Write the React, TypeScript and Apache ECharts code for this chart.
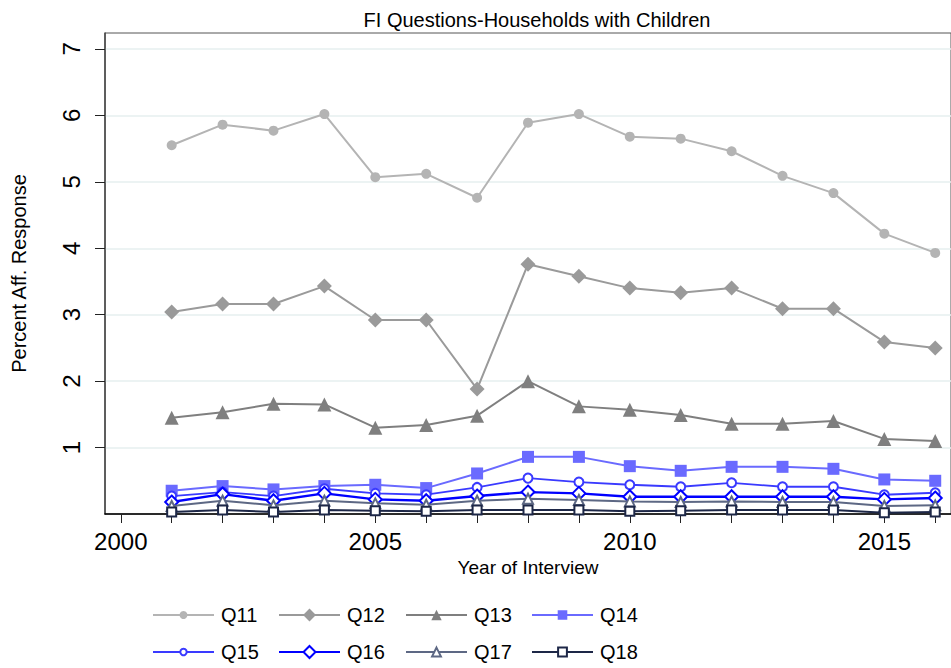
import React, { useEffect, useRef } from 'react';
import * as echarts from 'echarts';

const years = [2001, 2002, 2003, 2004, 2005, 2006, 2007, 2008, 2009, 2010, 2011, 2012, 2013, 2014, 2015, 2016];
const q11 = [5.55, 5.86, 5.77, 6.02, 5.07, 5.12, 4.76, 5.89, 6.02, 5.68, 5.65, 5.46, 5.09, 4.83, 4.22, 3.93];
const q12 = [3.04, 3.16, 3.16, 3.43, 2.92, 2.92, 1.88, 3.76, 3.58, 3.4, 3.33, 3.4, 3.09, 3.09, 2.59, 2.5];
const q13 = [1.45, 1.53, 1.66, 1.65, 1.3, 1.34, 1.48, 2.0, 1.62, 1.57, 1.49, 1.36, 1.36, 1.4, 1.13, 1.1];
const q14 = [0.35, 0.42, 0.37, 0.42, 0.44, 0.39, 0.61, 0.86, 0.86, 0.72, 0.65, 0.71, 0.71, 0.68, 0.52, 0.5];
const q15 = [0.27, 0.33, 0.27, 0.38, 0.31, 0.29, 0.4, 0.54, 0.48, 0.44, 0.41, 0.47, 0.41, 0.41, 0.29, 0.32];
const q16 = [0.18, 0.3, 0.2, 0.31, 0.22, 0.2, 0.27, 0.33, 0.31, 0.26, 0.26, 0.26, 0.26, 0.26, 0.22, 0.24];
const q17 = [0.12, 0.2, 0.13, 0.2, 0.16, 0.14, 0.2, 0.23, 0.21, 0.19, 0.18, 0.19, 0.18, 0.18, 0.12, 0.13];
const q18 = [0.03, 0.06, 0.03, 0.06, 0.05, 0.04, 0.06, 0.06, 0.06, 0.04, 0.05, 0.06, 0.06, 0.06, 0.02, 0.03];

const seriesNames = ['Q11', 'Q12', 'Q13', 'Q14', 'Q15', 'Q16', 'Q17', 'Q18'];
const seriesValues = [q11, q12, q13, q14, q15, q16, q17, q18];
const xTickYears = [2000, 2001, 2002, 2003, 2004, 2005, 2006, 2007, 2008, 2009, 2010, 2011, 2012, 2013, 2014, 2015, 2016];
const xLabelYears = [2000, 2005, 2010, 2015];
const yTickValues = [1, 2, 3, 4, 5, 6, 7];

const titleText = 'FI Questions-Households with Children';
const xName = 'Year of Interview';
const yName = 'Percent Aff. Response';

const FONT = "'Liberation Sans', Arial, Helvetica, sans-serif";

const styles = [
  { color: '#b4b4b4', symbol: 'circle', size: 10, width: 2, legendH: 10 },
  { color: '#9a9a9a', symbol: 'diamond', size: 15, width: 2, legendH: 16 },
  { color: '#7f7f7f', symbol: 'triangle', size: 14, width: 2, legendH: 13 },
  { color: '#6a6aff', symbol: 'rect', size: 12, width: 2, legendH: 12 },
  { color: '#3a3aff', symbol: 'emptyCircle', size: 9, width: 1.8, legendH: 8 },
  { color: '#0000ff', symbol: 'emptyDiamond', size: 13, width: 2.4, legendH: 15 },
  { color: '#5d6884', symbol: 'emptyTriangle', size: 10, width: 2, legendH: 11 },
  { color: '#1d2747', symbol: 'emptyRect', size: 9, width: 2, legendH: 11 },
];

const legendCols = [147, 273, 400, 526];
const legendRows = [600, 637];

export default function App() {
  const ref = useRef<HTMLDivElement>(null);
  useEffect(() => {
    if (!ref.current) return;
    const chart = echarts.init(ref.current, null, { renderer: 'svg' });
    const series = seriesNames.map((name, i) => ({
      name,
      type: 'line',
      data: years.map((y, j) => [y, seriesValues[i][j]]),
      symbol: styles[i].symbol,
      symbolSize: styles[i].size,
      showAllSymbol: true,
      lineStyle: { color: styles[i].color, width: styles[i].width },
      itemStyle: { color: styles[i].color, borderWidth: 2 },
      emphasis: { disabled: true },
      z: 2 + i,
    }));
    const legends = seriesNames.map((name, i) => ({
      data: [name],
      left: legendCols[i % 4],
      top: legendRows[Math.floor(i / 4)],
      itemWidth: 61,
      itemHeight: styles[i].legendH,
      itemGap: 0,
      selectedMode: false,
      textStyle: { fontSize: 20, fontFamily: FONT, color: '#000', padding: [0, 0, 0, 2] },
    }));
    chart.setOption({
      animation: false,
      backgroundColor: '#ffffff',
      title: {
        text: titleText,
        left: 532,
        textAlign: 'center',
        top: 5,
        textStyle: { fontSize: 20, fontWeight: 'normal', fontFamily: FONT, color: '#000' },
      },
      legend: legends,
      grid: {
        left: 105,
        top: 33,
        width: 854,
        height: 481,
        show: true,
        borderColor: '#555',
        borderWidth: 1,
        backgroundColor: 'transparent',
      },
      xAxis: {
        type: 'value',
        min: 1999.69,
        max: 2016.31,
        name: xName,
        nameLocation: 'middle',
        nameGap: 39,
        nameTextStyle: { fontSize: 19, fontFamily: FONT, color: '#000' },
        axisLine: { show: true, lineStyle: { color: '#000', width: 1.5 } },
        axisTick: { show: true, length: 9, customValues: xTickYears, lineStyle: { color: '#222' } },
        axisLabel: {
          customValues: xLabelYears,
          fontSize: 24,
          fontFamily: FONT,
          color: '#000',
          margin: 15,
          formatter: (v: number) => String(Math.round(v)),
        },
        splitLine: { show: false },
      },
      yAxis: {
        type: 'value',
        min: 0,
        max: 7.24,
        interval: 1,
        name: yName,
        nameLocation: 'middle',
        nameGap: 76,
        nameRotate: 90,
        nameTextStyle: { fontSize: 20, fontFamily: FONT, color: '#000' },
        axisLine: { show: true, lineStyle: { color: '#444', width: 1.5 } },
        axisTick: { show: true, length: 10, customValues: yTickValues, lineStyle: { color: '#222' } },
        axisLabel: {
          customValues: yTickValues,
          rotate: 90,
          fontSize: 24,
          fontFamily: FONT,
          color: '#000',
          margin: 22,
        },
        splitLine: { show: true, lineStyle: { color: '#e6efef', width: 1.5 } },
      },
      series,
    });
    return () => chart.dispose();
  }, []);
  return (
    <div
      ref={ref}
      style={{ position: 'fixed', left: 0, top: 0, width: 951, height: 668, background: '#fff' }}
    />
  );
}
